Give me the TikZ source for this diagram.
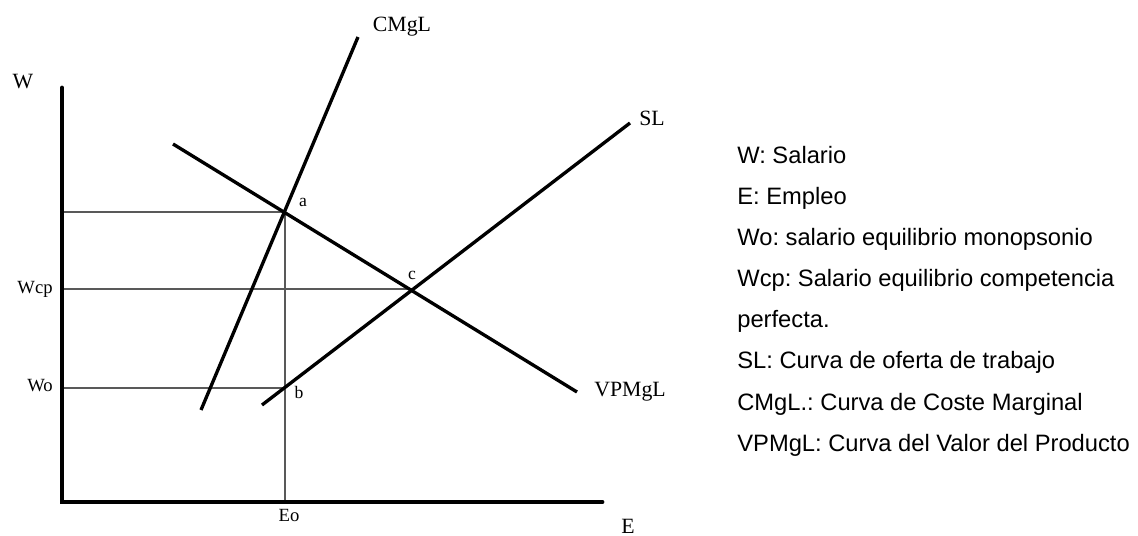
\documentclass[tikz,border=0pt]{standalone}
\usepackage{fontspec}
\setmainfont{Liberation Serif}
\newfontfamily\legendfont{Liberation Sans}
\usetikzlibrary{positioning}
\frenchspacing

\begin{document}
\begin{tikzpicture}[
    x=0.02cm, y=-0.02cm,
    axis/.style={line width=2.8pt, line cap=round},
    curve/.style={line width=1.9pt},
    guide/.style={line width=0.6pt, black!65},
    ctag/.style={font=\fontsize{12.4}{14}\selectfont, inner sep=0.5pt},
    vtag/.style={font=\fontsize{10.6}{12}\selectfont, inner sep=0pt},
    ptag/.style={font=\fontsize{10}{12}\selectfont, inner sep=0pt},
    legend/.style={anchor=base west, inner sep=0pt, font=\legendfont\fontsize{13.5}{16}\selectfont},
  ]
    \useasboundingbox (0,0) rectangle (1138,536);

    % =================== ejes ===================
    \coordinate (O)    at (62,502);
    \coordinate (Wtop) at (62,88);
    \coordinate (Eend) at (602,502);
    \node[ctag] (W) at (23,82)  {W};
    \node[ctag] (E) at (628,526) {E};

    % =================== puntos ===================
    \coordinate (a)   at (285,212);
    \coordinate (b)   at (285,388);
    \coordinate (c)   at (412,289);
    \coordinate (Wa)  at (62,212);
    \coordinate (Wc)  at (62,289);
    \coordinate (Wb)  at (62,388);
    \coordinate (Ea)  at (285,502);

    % lineas de referencia
    \draw[guide] (Wa) -- (a) -- (Ea);
    \draw[guide] (Wc) -- (c);
    \draw[guide] (Wb) -- (b);
    \draw[axis] (Wtop) -- (O) -- (Eend);

    % =================== curvas ===================
    \coordinate (cm0) at (201,410);
    \coordinate (cm1) at (358,37);
    \coordinate (sl0) at (262,405);
    \coordinate (sl1) at (630,123);
    \coordinate (vp0) at (173,144);
    \coordinate (vp1) at (577,392);
    \draw[curve] (cm0) -- (cm1);
    \draw[curve] (sl0) -- (sl1);
    \draw[curve] (vp0) -- (vp1);
    \node[ctag] (cmgl)  at (402,27)  {CMgL};
    \node[ctag] (sl)    at (652,118) {SL};
    \node[ctag] (vpmgl) at (630,392) {VPMgL};

    % etiquetas
    \node[vtag, anchor=east] (wcp) at (53,289) {Wcp};
    \node[vtag, anchor=east] (wo)  at (53,386) {Wo};
    \node[vtag] (eo) at (289,515) {Eo};
    \node[ptag] (la) at (303,202) {a};
    \node[ptag] (lb) at (299,392) {b};
    \node[ptag] (lc) at (412,275) {c};

    % =================== leyenda ===================
    \node[legend] (l1) at (737,164) {W: Salario};
    \node[legend] (l2) at (737,205) {E: Empleo};
    \node[legend] (l3) at (737,246) {Wo: salario equilibrio monopsonio};
    \node[legend] (l4) at (737,287) {Wcp: Salario equilibrio competencia};
    \node[legend] (l5) at (737,328) {perfecta.};
    \node[legend] (l6) at (737,369) {SL: Curva de oferta de trabajo};
    \node[legend] (l7) at (737,410) {CMgL.: Curva de Coste Marginal};
    \node[legend] (l8) at (737,451) {VPMgL: Curva del Valor del Producto};
  \end{tikzpicture}
\end{document}
